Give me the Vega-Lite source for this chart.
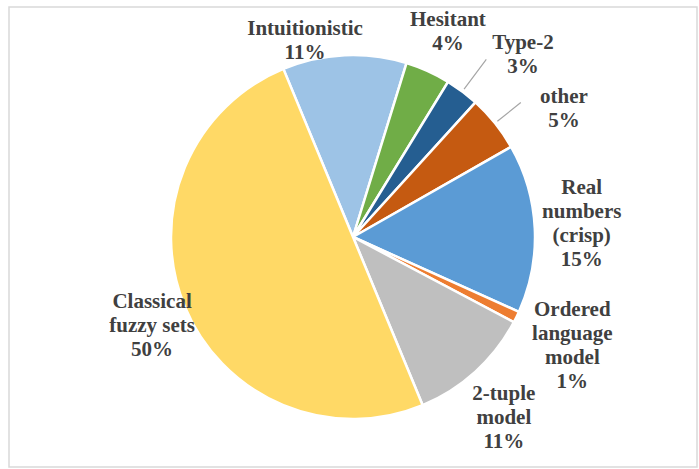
{
  "$schema": "https://vega.github.io/schema/vega-lite/v6.json",
  "width": 688,
  "height": 460,
  "padding": {"left": 9, "top": 7, "right": 2, "bottom": 2},
  "autosize": {"type": "none"},
  "background": "white",
  "config": {"view": {"stroke": null}},
  "datasets": {
    "slices": [
      {"k": 1, "category": "Intuitionistic", "value": 11, "label": "Intuitionistic\n11%"},
      {"k": 2, "category": "Hesitant", "value": 4, "label": "Hesitant\n4%"},
      {"k": 3, "category": "Type-2", "value": 3, "label": "Type-2\n3%"},
      {"k": 4, "category": "other", "value": 5, "label": "other\n5%"},
      {"k": 5, "category": "Real numbers (crisp)", "value": 15, "label": "Real\nnumbers\n(crisp)\n15%"},
      {"k": 6, "category": "Ordered language model", "value": 1, "label": "Ordered\nlanguage\nmodel\n1%"},
      {"k": 7, "category": "2-tuple model", "value": 11, "label": "2-tuple\nmodel\n11%"},
      {"k": 8, "category": "Classical fuzzy sets", "value": 50, "label": "Classical\nfuzzy sets\n50%"}
    ],
    "frame": [{"name": "chart area"}]
  },
  "data": {"name": "slices"},
  "layer": [
    {
      "data": {"name": "frame"},
      "mark": {"type": "rect", "fill": null, "stroke": "#D9D9D9", "strokeWidth": 1.5},
      "encoding": {}
    },
    {
      "mark": {"type": "arc", "radius": 182, "stroke": "white", "strokeWidth": 2.5},
      "encoding": {
        "theta": {"field": "value", "type": "quantitative", "stack": true, "scale": {"range": [-0.3927, 5.8905]}},
        "order": {"field": "k", "type": "quantitative"},
        "color": {
          "field": "category",
          "type": "nominal",
          "legend": null,
          "scale": {
            "domain": ["Intuitionistic", "Hesitant", "Type-2", "other", "Real numbers (crisp)", "Ordered language model", "2-tuple model", "Classical fuzzy sets"],
            "range": ["#9DC3E6", "#70AD47", "#255E91", "#C55A11", "#5B9BD5", "#ED7D31", "#BFBFBF", "#FFD966"]
          }
        }
      }
    },
    {
      "mark": {
        "type": "arc",
        "radius": {"expr": "datum.category === 'Type-2' ? 222 : 215"},
        "radius2": 185,
        "padAngle": 3.1,
        "fill": null,
        "stroke": "#A6A6A6",
        "strokeWidth": 1.2
      },
      "encoding": {
        "theta": {"field": "value", "type": "quantitative", "stack": true},
        "order": {"field": "k", "type": "quantitative"},
        "detail": {"field": "category", "type": "nominal"},
        "strokeOpacity": {
          "condition": {"test": "datum.category === 'Type-2' || datum.category === 'other'", "value": 1},
          "value": 0
        }
      }
    },
    {
      "mark": {
        "type": "text",
        "font": "Liberation Serif",
        "fontSize": 21,
        "fontWeight": "bold",
        "color": "#404040",
        "lineBreak": "\n",
        "lineHeight": 24,
        "align": "center",
        "baseline": "middle",
        "radius": {"expr": "datum.category === 'Intuitionistic' ? 213 : datum.category === 'Hesitant' ? 237 : datum.category === 'Type-2' ? 258 : datum.category === 'other' ? 253 : datum.category === 'Real numbers (crisp)' ? 234 : datum.category === 'Ordered language model' ? 231 : datum.category === '2-tuple model' ? 218 : 211"},
        "thetaOffset": {"expr": "datum.category === 'Intuitionistic' ? -0.180 : datum.category === 'Hesitant' ? -0.012 : datum.category === 'Type-2' ? 0.075 : datum.category === 'other' ? 0.091 : datum.category === 'Real numbers (crisp)' ? -0.166 : datum.category === 'Ordered language model' ? -0.136 : datum.category === '2-tuple model' ? -0.026 : 0.082"}
      },
      "encoding": {
        "theta": {"field": "value", "type": "quantitative", "stack": true},
        "order": {"field": "k", "type": "quantitative"},
        "detail": {"field": "category", "type": "nominal"},
        "text": {"field": "label", "type": "nominal"}
      }
    }
  ]
}
